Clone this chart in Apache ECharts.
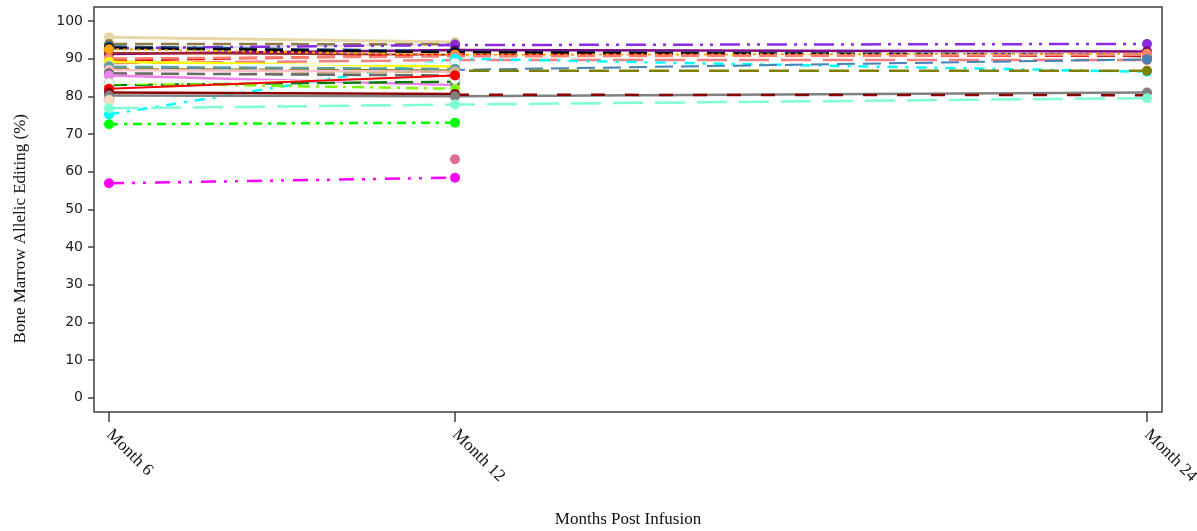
<!DOCTYPE html>
<html>
<head>
<meta charset="utf-8">
<script src="https://cdn.jsdelivr.net/npm/echarts@6/dist/echarts.min.js"></script>
<style>
html,body{margin:0;padding:0;background:#fff;}
#chart{width:1197px;height:531px;}
</style>
</head>
<body>
<div id="chart"></div>
<script>
// ---- data ----
const months = [6, 12, 24];
const monthLabels = ['Month 6', 'Month 12', 'Month 24'];
const yTicks = [0, 10, 20, 30, 40, 50, 60, 70, 80, 90, 100];

// values at Month 6, Month 12, Month 24 (null = not measured)
const s01 = [95.7, 94.4, null];
const s02 = [92.6, 93.9, null];
const s03 = [93.9, 93.8, null];
const s04 = [92.8, 93.6, 93.9];
const s05 = [91.2, 92.3, 91.9];
const s06 = [93.2, 91.9, 91.0];
const s07 = [92.8, 91.7, 90.7];
const s08 = [91.5, 91.0, null];
const s09 = [89.5, 91.0, 90.8];
const s10 = [92.5, 91.0, 91.3];
const s11 = [90.0, 90.6, 91.0];
const s12 = [88.8, 89.6, 89.6];
const s13 = [75.2, 90.0, 86.5];
const s14 = [89.2, 87.9, null];
const s15 = [88.0, 88.8, null];
const s16 = [87.5, 87.0, 89.8];
const s17 = [87.2, 86.8, 86.8];
const s18 = [87.9, 87.3, null];
const s19 = [87.0, 86.5, null];
const s20 = [85.7, 86.5, null];
const s21 = [86.1, 85.5, null];
const s22 = [85.5, 83.0, null];
const s23 = [83.0, 83.9, null];
const s24 = [83.5, 82.0, null];
const s25 = [83.5, 84.5, null];
const s26 = [82.0, 85.5, null];
const s27 = [81.0, 80.6, null];
const s28 = [80.2, 80.0, 81.0];
const s29 = [null, 80.4, 80.3];
const s30 = [79.0, null, null];
const s31 = [76.8, 77.8, 79.5];
const s32 = [72.6, 73.0, null];
const s33 = [null, 63.3, null];
const s34 = [56.9, 58.4, null];

// ---- styles ----
const DASH = [18, 8], LONG = [30, 12], DD = [12, 6, 3, 6], DDD = [20, 7, 3, 7, 3, 7], DOT = [3, 4];
const styles = [
  [s01, '#E6D7A6', 'solid', 3, true],
  [s02, '#D8D8EE', 'solid', 2, true],
  [s03, '#8B7D45', DASH, 2.5, true],
  [s04, '#8A2BE2', DDD, 2.5, true],
  [s05, '#800080', 'solid', 2.5, true],
  [s06, '#1F4E8C', DASH, 2.5, true],
  [s07, '#000000', DASH, 2.5, true],
  [s08, '#A52A2A', 'solid', 2, true],
  [s09, '#FF0000', DASH, 2.5, true],
  [s10, '#FFA500', DOT, 2, true],
  [s11, '#FA8072', DASH, 2.5, true],
  [s12, '#F08080', LONG, 2.5, true],
  [s13, '#00FFFF', [10, 8, 3, 8], 2.5, true],
  [s14, '#FFFF00', 'solid', 2.5, true],
  [s15, '#F0FFFF', 'solid', 2, true],
  [s16, '#4682B4', DASH, 2, true],
  [s17, '#808000', [20, 10], 2.5, true],
  [s18, '#5F9EA0', DASH, 2, true],
  [s19, '#FFC0CB', 'solid', 2.5, true],
  [s20, '#D2B48C', DASH, 2, true],
  [s21, '#696969', DASH, 2.5, true],
  [s22, '#EE82EE', 'solid', 2.5, true],
  [s23, '#008000', DASH, 2.5, true],
  [s24, '#7CFC00', DD, 2.5, true],
  [s25, '#F0FFF0', 'solid', 2, true],
  [s26, '#FF0000', 'solid', 2, true],
  [s27, '#8B0000', 'solid', 2.5, true],
  [s28, '#808080', 'solid', 2.5, true],
  [s29, '#8B0000', [14, 20], 2.5, false],
  [s30, '#FFDAB9', 'solid', 2, true],
  [s31, '#7FFFD4', LONG, 2.5, true],
  [s32, '#00FF00', [9, 6, 3, 6], 2.5, true],
  [s33, '#DB7093', 'solid', 2, true],
  [s34, '#FF00FF', [15, 8, 3, 8, 3, 9], 2.5, true]
];
const lightOnes = ['#D8D8EE', '#F0FFFF', '#F0FFF0', '#FFDAB9'];

const series = styles.map(function (st, i) {
  const vals = st[0];
  const data = [];
  vals.forEach(function (v, k) { if (v !== null) data.push([months[k], v]); });
  const light = lightOnes.indexOf(st[1]) >= 0;
  return {
    name: 'Subject ' + (i + 1),
    type: 'line',
    data: data,
    symbol: st[4] ? 'circle' : 'none',
    symbolSize: 10,
    showSymbol: st[4],
    animation: false,
    lineStyle: { color: st[1], type: st[2], width: st[3] },
    itemStyle: { color: st[1], borderColor: light ? '#C8C8C8' : st[1], borderWidth: light ? 1 : 0 }
  };
});

const chart = echarts.init(document.getElementById('chart'), null, { renderer: 'canvas' });
chart.setOption({
  backgroundColor: '#ffffff',
  animation: false,
  grid: {
    left: 94, right: 35, top: 7, bottom: 119,
    containLabel: false,
    outerBoundsMode: 'none',
    show: true, borderColor: '#404040', borderWidth: 1.5, backgroundColor: 'transparent'
  },
  xAxis: {
    type: 'value',
    min: 5.74, max: 24.26,
    axisLine: { show: false, onZero: false },
    splitLine: { show: false },
    axisTick: { show: true, customValues: months, length: 10, lineStyle: { color: '#404040', width: 1.5 } },
    axisLabel: {
      customValues: months,
      rotate: -45,
      margin: 20,
      fontFamily: 'Liberation Serif',
      fontSize: 17,
      color: '#111',
      formatter: function (v) { return monthLabels[months.indexOf(v)]; }
    },
    name: 'Months Post Infusion',
    nameLocation: 'middle',
    nameGap: 99,
    nameTextStyle: { fontFamily: 'Liberation Serif', fontSize: 17, color: '#111' }
  },
  yAxis: {
    type: 'value',
    min: -3.8, max: 103.7,
    axisLine: { show: false, onZero: false },
    splitLine: { show: false },
    axisTick: { show: true, customValues: yTicks, length: 6, lineStyle: { color: '#404040', width: 1.5 } },
    axisLabel: {
      customValues: yTicks,
      margin: 11,
      fontFamily: 'DejaVu Sans',
      fontSize: 14,
      color: '#222'
    }
  },
  graphic: [{
    type: 'text',
    left: 12, top: 114,
    rotation: Math.PI / 2,
    style: {
      text: 'Bone Marrow Allelic Editing (%)',
      fontFamily: 'Liberation Serif',
      fontSize: 17,
      fill: '#111'
    }
  }],
  series: series
});
</script>
</body>
</html>
